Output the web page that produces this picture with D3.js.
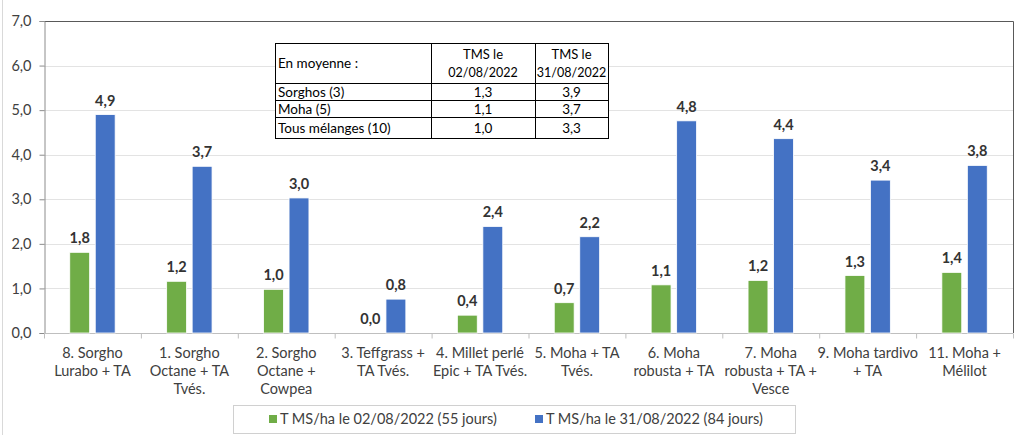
<!DOCTYPE html>
<html><head><meta charset="utf-8">
<script src="https://cdn.jsdelivr.net/npm/d3@7"></script>
<style>
html,body{margin:0;padding:0;background:#fff;}
svg{display:block;font-family:Lato, "Open Sans", sans-serif;}
</style></head>
<body>
<svg id="chart" width="1019" height="435"></svg>
<script>
const categories = [
  ["8. Sorgho","Lurabo + TA"],
  ["1. Sorgho","Octane + TA","Tvés."],
  ["2. Sorgho","Octane +","Cowpea"],
  ["3. Teffgrass +","TA Tvés."],
  ["4. Millet perlé","Epic + TA Tvés."],
  ["5. Moha + TA","Tvés."],
  ["6. Moha","robusta + TA"],
  ["7. Moha","robusta + TA +","Vesce"],
  ["9. Moha tardivo","+ TA"],
  ["11. Moha +","Mélilot"]
];
const seriesNames = ["T MS/ha le 02/08/2022 (55 jours)","T MS/ha le 31/08/2022 (84 jours)"];
const aug02 = [1.81, 1.16, 0.98, 0.0, 0.40, 0.68, 1.08, 1.18, 1.29, 1.36];
const aug31 = [4.90, 3.74, 3.03, 0.76, 2.39, 2.16, 4.76, 4.36, 3.43, 3.76];
const seriesColors = ["#70AD47", "#4472C4"];
const yTicks = [0,1,2,3,4,5,6,7];
const tableHeader = ["En moyenne :", ["TMS le","02/08/2022"], ["TMS le","31/08/2022"]];
const tableRows = [
  ["Sorghos (3)", "1,3", "3,9"],
  ["Moha (5)", "1,1", "3,7"],
  ["Tous mélanges (10)", "1,0", "3,3"]
];

const svg = d3.select("#chart");
const pLeft = 44, pRight = 1013, pTop = 21, pBottom = 333;
const fr = d3.formatLocale({decimal: ",", thousands: " ", grouping: [3], currency: ["", "€"]});
const fmt = fr.format(".1f");

svg.append("line").attr("x1",2.5).attr("x2",2.5).attr("y1",0).attr("y2",435).attr("stroke","#d9d9d9");

const y = d3.scaleLinear().domain([0,7]).range([pBottom, pTop]);
const x0 = d3.scaleBand().domain(d3.range(categories.length)).range([pLeft, pRight]).paddingInner(0).paddingOuter(0);
const x1 = d3.scaleBand().domain([0,1]).range([0, x0.bandwidth()]).paddingInner(0.22).paddingOuter(1.01);

svg.append("g").selectAll("line").data(yTicks.filter(d=>d>0 && d<7)).join("line")
  .attr("x1",pLeft).attr("x2",pRight).attr("y1",d=>Math.round(y(d))+0.5).attr("y2",d=>Math.round(y(d))+0.5)
  .attr("stroke","#e3e3e3").attr("stroke-width",1);

svg.append("path").attr("d",`M${pLeft},${y(7)+0.5}H${pRight+0.5}V${pBottom}`)
  .attr("fill","none").attr("stroke","#595959").attr("stroke-width",1);

const yAxis = d3.axisLeft(y).tickValues(yTicks).tickFormat(fmt).tickSize(5).tickPadding(8);
const gy = svg.append("g").attr("transform",`translate(${pLeft+0.5},0)`).call(yAxis);
gy.select(".domain").attr("stroke","#8c8c8c");
gy.selectAll(".tick line").attr("stroke","#8c8c8c");
gy.selectAll(".tick text").attr("font-size",14.5).attr("fill","#404040").attr("font-family","Lato, sans-serif");

const xAxis = d3.axisBottom(d3.scaleLinear().domain([0,10]).range([pLeft,pRight]))
  .tickValues(d3.range(0,11)).tickSize(5).tickFormat("");
const gx = svg.append("g").attr("transform",`translate(0,${pBottom+0.5})`).call(xAxis);
gx.select(".domain").attr("stroke","#bfbfbf").attr("d",`M${pLeft},0H${pRight}`);
gx.selectAll(".tick line").attr("stroke","#bfbfbf");

const series = [aug02, aug31];
series.forEach((vals, si) => {
  const g = svg.append("g");
  g.selectAll("rect").data(vals).join("rect")
    .attr("x",(d,i)=>x0(i)+x1(si))
    .attr("width",x1.bandwidth())
    .attr("y",d=>y(d))
    .attr("height",d=>y(0)-y(d))
    .attr("fill",seriesColors[si])
    .attr("stroke","#ffffff").attr("stroke-width",0.8);
  g.selectAll("text").data(vals).join("text")
    .attr("x",(d,i)=>x0(i)+x1(si)+x1.bandwidth()/2)
    .attr("y",d=>y(d)-9)
    .attr("text-anchor","middle")
    .attr("font-size",14.5).attr("font-weight","bold").attr("fill","#333333")
    .text(d=>fmt(d));
});

const cg = svg.append("g");
categories.forEach((lines, i) => {
  const t = cg.append("text")
    .attr("x", x0(i)+x0.bandwidth()/2).attr("y", 358)
    .attr("text-anchor","middle").attr("font-size",14.5).attr("fill","#404040");
  lines.forEach((l, k) => t.append("tspan").attr("x", x0(i)+x0.bandwidth()/2).attr("dy", k===0?0:18).text(l));
});

const tx = [275, 431, 535, 608];
const ty = [43, 83, 100, 117, 138];
const tg = svg.append("g");
tg.append("rect").attr("x",tx[0]+0.5).attr("y",ty[0]+0.5).attr("width",tx[3]-tx[0]).attr("height",ty[4]-ty[0])
  .attr("fill","#fff").attr("stroke","#000");
[tx[1],tx[2]].forEach(xx=>tg.append("line").attr("x1",xx+0.5).attr("x2",xx+0.5).attr("y1",ty[0]).attr("y2",ty[4]).attr("stroke","#000"));
[ty[1],ty[2],ty[3]].forEach(yy=>tg.append("line").attr("x1",tx[0]).attr("x2",tx[3]).attr("y1",yy+0.5).attr("y2",yy+0.5).attr("stroke","#000"));
const tfs = 13.5;
tg.append("text").attr("x",tx[0]+3).attr("y",(ty[0]+ty[1])/2+5).attr("font-size",tfs).attr("fill","#000").text(tableHeader[0]);
[1,2].forEach(c=>{
  const cx = (tx[c]+tx[c+1])/2;
  const t = tg.append("text").attr("text-anchor","middle").attr("font-size",13).attr("fill","#000");
  t.append("tspan").attr("x",cx).attr("y",ty[0]+16).text(tableHeader[c][0]);
  t.append("tspan").attr("x",cx).attr("y",ty[0]+34).attr("font-size",12.5).text(tableHeader[c][1]);
});
tableRows.forEach((row, r) => {
  const yy = (ty[r+1]+ty[r+2])/2+5;
  tg.append("text").attr("x",tx[0]+3).attr("y",yy).attr("font-size",tfs).attr("fill","#000").text(row[0]);
  [1,2].forEach(c=>tg.append("text").attr("x",(tx[c]+tx[c+1])/2).attr("y",yy).attr("text-anchor","middle")
    .attr("font-size",tfs).attr("fill","#000").text(row[c]));
});

const lg = svg.append("g");
lg.append("rect").attr("x",233.5).attr("y",405.5).attr("width",562).attr("height",28)
  .attr("fill","#fff").attr("stroke","#d0d0d0");
const legX = [269, 535];
seriesNames.forEach((n, i) => {
  lg.append("rect").attr("x",legX[i]).attr("y",415).attr("width",8).attr("height",8).attr("fill",seriesColors[i]);
  lg.append("text").attr("x",legX[i]+11).attr("y",424).attr("font-size",14.5).attr("fill","#404040").text(n);
});
</script>
</body></html>
